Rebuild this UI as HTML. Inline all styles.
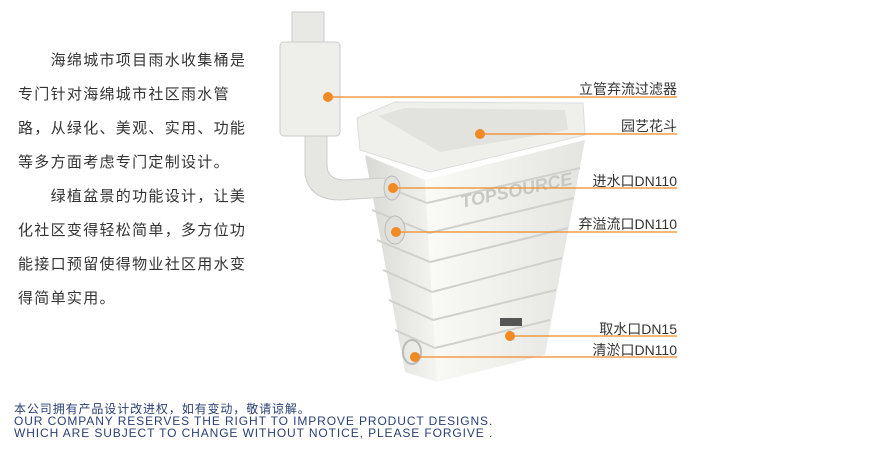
<!DOCTYPE html>
<html><head><meta charset="utf-8"><style>
body{margin:0;width:883px;height:453px;background:#fff;overflow:hidden;position:relative;font-family:"Liberation Sans","Noto Sans CJK SC",sans-serif}
.p{position:absolute;left:18px;top:44px;font-size:15px;letter-spacing:1.3px;line-height:34px;color:#333;white-space:nowrap}
.lb{position:absolute;right:206px;font-size:14px;color:#333;white-space:nowrap}
.ft{position:absolute;left:14px;top:403px;font-size:12px;line-height:12px;color:#2a3f73;letter-spacing:0.9px;white-space:nowrap}
</style></head><body>
<div class="p">&emsp;&emsp;海绵城市项目雨水收集桶是<br>专门针对海绵城市社区雨水管<br>路，从绿化、美观、实用、功能<br>等多方面考虑专门定制设计。<br>&emsp;&emsp;绿植盆景的功能设计，让美<br>化社区变得轻松简单，多方位功<br>能接口预留使得物业社区用水变<br>得简单实用。</div>
<svg width="883" height="453" style="position:absolute;left:0;top:0">
<defs><linearGradient id="g1" x1="0" x2="1"><stop offset="0" stop-color="#d8d8d4"/><stop offset="1" stop-color="#f4f4f0"/></linearGradient>
<linearGradient id="g2" x1="0" x2="1"><stop offset="0" stop-color="#fafaf7"/><stop offset="1" stop-color="#e4e4e0"/></linearGradient></defs>
<polygon points="365,155 425,180 437,382 405,372" fill="url(#g1)"/>
<polygon points="425,180 585,140 545,355 437,382" fill="url(#g2)"/>
<g stroke="#d0d0cc" stroke-width="2">
<line x1="368" y1="180" x2="427" y2="203"/><line x1="427" y1="203" x2="580" y2="168"/>
<line x1="372" y1="210" x2="429" y2="233"/><line x1="429" y1="233" x2="574" y2="198"/>
<line x1="377" y1="240" x2="430" y2="262"/><line x1="430" y1="262" x2="568" y2="228"/>
<line x1="383" y1="270" x2="432" y2="292"/><line x1="432" y1="292" x2="562" y2="258"/>
<line x1="389" y1="300" x2="433" y2="320"/><line x1="433" y1="320" x2="556" y2="290"/>
<line x1="395" y1="330" x2="435" y2="348"/><line x1="435" y1="348" x2="550" y2="320"/>
</g>
<polygon points="357,118 395,102 583,103 585,135 430,172 360,150" fill="#efefeb" stroke="#ddd"/>
<polygon points="378,116 405,108 565,110 568,130 440,152" fill="#e2e2de"/>
<text x="462" y="208" font-size="18" font-weight="bold" fill="#c8c8c4" transform="rotate(-12 462 208)" font-style="italic">TOPSOURCE</text>
<rect x="292" y="12" width="32" height="32" fill="#e8e8e4" stroke="#ccc"/>
<rect x="280" y="42" width="60" height="94" rx="4" fill="#eeeeea" stroke="#ccc"/>
<path d="M305 136 L305 175 Q310 200 340 200 L385 197 L385 178 L345 180 Q327 180 327 165 L327 136 Z" fill="#e6e6e2" stroke="#ccc"/>
<ellipse cx="392" cy="188" rx="8" ry="12" fill="#e0e0dc" stroke="#bbb"/>
<ellipse cx="395" cy="230" rx="10" ry="14" fill="#e0e0dc" stroke="#bbb"/>
<ellipse cx="412" cy="352" rx="9" ry="12" fill="none" stroke="#bbb" stroke-width="2"/>
<rect x="500" y="318" width="22" height="8" fill="#555"/>
<g stroke="#f08a24" stroke-width="1.2">
<line x1="328" y1="97" x2="677" y2="97"/><line x1="480" y1="134" x2="677" y2="134"/>
<line x1="393" y1="188" x2="677" y2="188"/><line x1="396" y1="232" x2="677" y2="232"/>
<line x1="510" y1="336" x2="677" y2="336"/><line x1="415" y1="357" x2="677" y2="357"/>
</g>
<g fill="#f08a24"><circle cx="328" cy="97" r="5"/><circle cx="480" cy="134" r="5"/><circle cx="393" cy="188" r="5"/><circle cx="396" cy="232" r="5"/><circle cx="510" cy="336" r="5"/><circle cx="415" cy="357" r="5"/></g>
</svg>
<div class="lb" style="top:79px">立管弃流过滤器</div>
<div class="lb" style="top:116px">园艺花斗</div>
<div class="lb" style="top:171px">进水口DN110</div>
<div class="lb" style="top:214px">弃溢流口DN110</div>
<div class="lb" style="top:319px">取水口DN15</div>
<div class="lb" style="top:340px">清淤口DN110</div>
<div class="ft">本公司拥有产品设计改进权，如有变动，敬请谅解。<br>OUR COMPANY RESERVES THE RIGHT TO IMPROVE PRODUCT DESIGNS.<br>WHICH ARE SUBJECT TO CHANGE WITHOUT NOTICE, PLEASE FORGIVE .</div>
</body></html>
